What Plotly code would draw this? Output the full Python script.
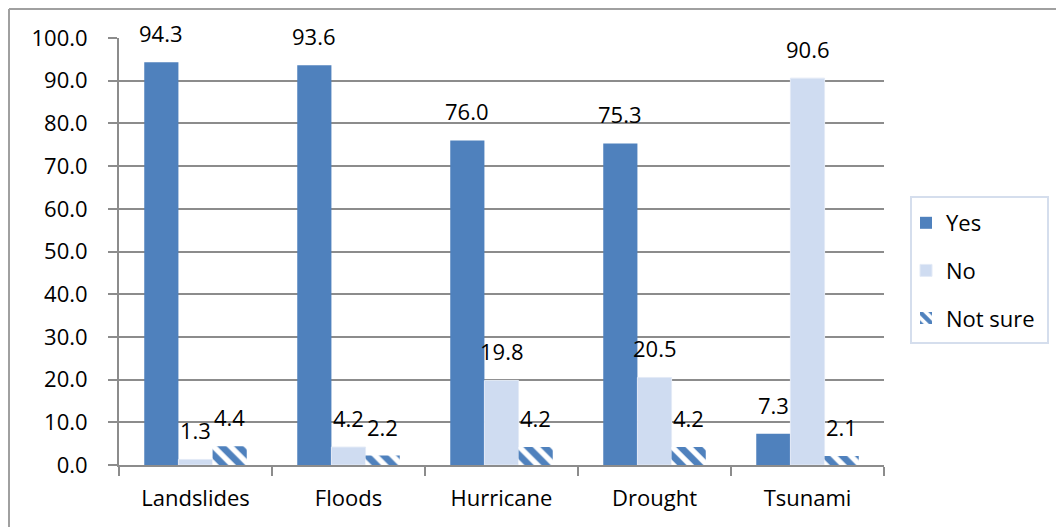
import plotly.graph_objects as go

# Survey responses per hazard (percent)
categories = ["Landslides", "Floods", "Hurricane", "Drought", "Tsunami"]
yes_vals = [94.3, 93.6, 76.0, 75.3, 7.3]
no_vals = [1.3, 4.2, 19.8, 20.5, 90.6]
not_sure_vals = [4.4, 2.2, 4.2, 4.2, 2.1]
series_names = ["Yes", "No", "Not sure"]
y_ticks = [0, 10, 20, 30, 40, 50, 60, 70, 80, 90, 100]

FONT = "'Open Sans', Lato, sans-serif"
FS = 22
BLUE = "#4f81bd"
LIGHT = "#cfdcf1"
GRID = "#8c8c8c"

W, H = 1056, 527
L, R, T, B = 119, 172, 38, 62
plot_w = W - L - R
plot_h = H - T - B

fig = go.Figure()

fig.add_trace(go.Bar(
    x=categories, y=yes_vals, name=series_names[0],
    marker=dict(color=BLUE, line=dict(width=0)),
    legendgroup="a",
))
fig.add_trace(go.Bar(
    x=categories, y=no_vals, name=series_names[1],
    marker=dict(color=LIGHT, line=dict(color="#e3eaf6", width=1)),
    legendgroup="b",
))
fig.add_trace(go.Bar(
    x=categories, y=not_sure_vals, name=series_names[2],
    marker=dict(
        color="white",
        line=dict(width=0),
        pattern=dict(shape="\\", fgcolor=BLUE, bgcolor="white",
                     size=12, solidity=0.55, fillmode="replace"),
    ),
    legendgroup="c",
))

# Value labels above each bar
bargap = 0.33
cat_px = plot_w / len(categories)
bar_px = cat_px * (1 - bargap) / 3
annotations = []
for k, vals in enumerate([yes_vals, no_vals, not_sure_vals]):
    for cat, v in zip(categories, vals):
        annotations.append(dict(
            x=cat, y=v, xref="x", yref="y",
            text=f"{v:.1f}", showarrow=False,
            xshift=(k - 1) * bar_px, yshift=12,
            yanchor="bottom", xanchor="center",
            font=dict(family=FONT, size=FS, color="#000000"),
        ))

# Chart-area frame: top and left edges
x0 = (9 - L) / plot_w
y0 = 1 + (T - 9) / plot_h
y_bottom = -(H + 5 - T - plot_h) / plot_h
shapes = [
    dict(type="line", xref="paper", yref="paper",
         x0=x0, x1=(W + 5 - L) / plot_w, y0=y0, y1=y0,
         line=dict(color="#a0a0a0", width=2)),
    dict(type="line", xref="paper", yref="paper",
         x0=x0, x1=x0, y0=y0, y1=y_bottom,
         line=dict(color="#a0a0a0", width=2)),
    # legend box
    dict(type="rect", xref="paper", yref="paper",
         x0=(911 - L) / plot_w, x1=(1048 - L) / plot_w,
         y0=1 - (343 - T) / plot_h, y1=1 - (197 - T) / plot_h,
         line=dict(color="#d5deed", width=2), fillcolor="rgba(0,0,0,0)"),
]

fig.update_layout(
    width=W, height=H,
    margin=dict(l=L, r=R, t=T, b=B),
    paper_bgcolor="white", plot_bgcolor="white",
    barmode="group", bargap=bargap, bargroupgap=0,
    font=dict(family=FONT, size=FS, color="#000000"),
    annotations=annotations,
    shapes=shapes,
    legend=dict(
        x=(906 - L) / plot_w, xanchor="left",
        y=1 - (202 - T) / plot_h, yanchor="top",
        bgcolor="rgba(0,0,0,0)", borderwidth=0,
        font=dict(family=FONT, size=FS),
        tracegroupgap=16, itemwidth=30,
    ),
    xaxis=dict(
        showline=True, linecolor=GRID, linewidth=2,
        ticks="outside", tickson="boundaries", ticklen=9,
        tickcolor=GRID, tickwidth=2,
        showgrid=False,
        ticklabelstandoff=13,
        tickfont=dict(family=FONT, size=FS),
    ),
    yaxis=dict(
        range=[0, 100], tickvals=y_ticks, tickformat=".1f",
        showline=True, linecolor=GRID, linewidth=2,
        ticks="outside", ticklen=9, tickcolor=GRID, tickwidth=2,
        showgrid=True, gridcolor=GRID, gridwidth=2,
        zeroline=False,
        ticklabelstandoff=16,
        tickfont=dict(family=FONT, size=FS),
    ),
)

fig.write_html("out.html")
